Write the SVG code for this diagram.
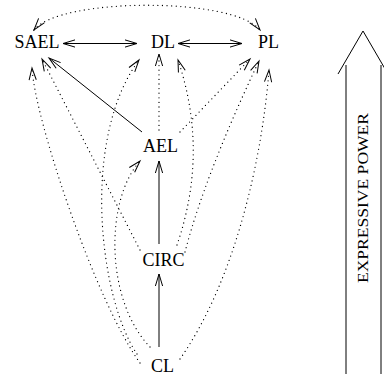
<svg xmlns="http://www.w3.org/2000/svg" width="384" height="377" viewBox="0 0 384 377">
<defs>
<style>
.lbl{font-family:"Liberation Serif","Times New Roman",serif;font-size:18px;fill:#000;text-anchor:middle}
.solid{fill:none;stroke:#000;stroke-width:1}
.dot{fill:none;stroke:#000;stroke-width:1.3;stroke-linecap:round;stroke-dasharray:0 4.6}
.ah{fill:none;stroke:#000;stroke-width:1;stroke-dasharray:none;stroke-linecap:butt}
</style>
<marker id="arr" markerUnits="userSpaceOnUse" markerWidth="16" markerHeight="10" viewBox="-13 -5 14 10" refX="0" refY="0" orient="auto-start-reverse" overflow="visible">
<path class="ah" d="M-12,-3.6 L0,0 L-12,3.6"/>
</marker>
</defs>
<rect width="384" height="377" fill="#fff"/>
<g id="connectors">
<path class="solid" d="M63,43.5 L137,43.5" marker-start="url(#arr)" marker-end="url(#arr)"/>
<path class="solid" d="M178,43.5 L242,43.5" marker-start="url(#arr)" marker-end="url(#arr)"/>
<path class="dot" d="M34,30 C60,-3 234,-3 260,30" marker-start="url(#arr)" marker-end="url(#arr)"/>
<path class="solid" d="M142,132 L49,58" marker-end="url(#arr)"/>
<path class="solid" d="M159,244 L159,161" marker-end="url(#arr)"/>
<path class="solid" d="M159,347 L159,274" marker-end="url(#arr)"/>
<path class="dot" d="M159,130 L159,54" marker-end="url(#arr)"/>
<path class="dot" d="M180,132 L250,59" marker-end="url(#arr)"/>
<path class="dot" d="M140,250 L42,59" marker-end="url(#arr)"/>
<path class="dot" d="M177,245 Q209,152 178,60" marker-end="url(#arr)"/>
<path class="dot" d="M185,252 Q205,175 259,61" marker-end="url(#arr)"/>
<path class="dot" d="M140,363 C95,300 35,120 32,68" marker-end="url(#arr)"/>
<path class="dot" d="M137,354 C100,300 80,140 139,60" marker-end="url(#arr)"/>
<path class="dot" d="M150,347 C105,300 105,200 140,161" marker-end="url(#arr)"/>
<path class="dot" d="M180,359 C235,280 262,160 269,70" marker-end="url(#arr)"/>
</g>
<g id="SAEL"><text class="lbl" x="37" y="48">SAEL</text></g>
<g id="DL"><text class="lbl" x="163" y="48">DL</text></g>
<g id="PL"><text class="lbl" x="268.5" y="48">PL</text></g>
<g id="AEL"><text class="lbl" x="160.5" y="152">AEL</text></g>
<g id="CIRC"><text class="lbl" x="163.5" y="266">CIRC</text></g>
<g id="CL"><text class="lbl" x="162.5" y="372">CL</text></g>
<g id="expressive-power">
<path class="solid" d="M346,65 V374 M381,65 V374"/>
<path class="solid" d="M338,74 L363,31 L388,74"/>
<text font-family="'Liberation Serif','Times New Roman',serif" font-size="15" text-anchor="middle" textLength="170" lengthAdjust="spacingAndGlyphs" transform="translate(367.5,198) rotate(-90)">EXPRESSIVE POWER</text>
</g>
</svg>
